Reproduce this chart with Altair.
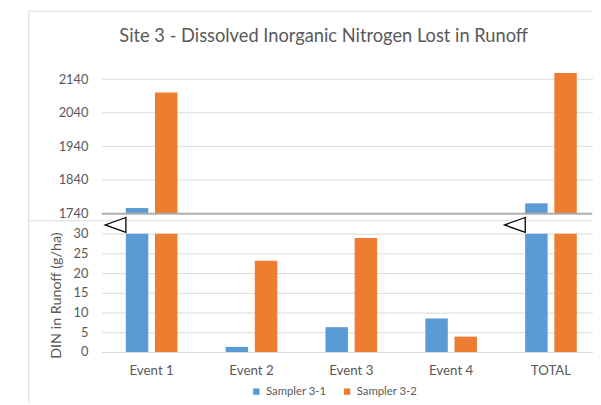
import altair as alt
import pandas as pd

# ---------------- data ----------------
categories = ["Event 1", "Event 2", "Event 3", "Event 4", "TOTAL"]
sampler_3_1 = [1756, 1.3, 6.3, 8.5, 1770]
sampler_3_2 = [2100, 23.1, 28.9, 3.9, 2158]
series_names = ["Sampler 3-1", "Sampler 3-2"]
series_colors = ["#5b9bd5", "#ed7d31"]
upper_ticks = [1740, 1840, 1940, 2040, 2140]
lower_ticks = [0, 5, 10, 15, 20, 25, 30]
break_markers = ["Event 1", "TOTAL"]
break_level = [32.2, 32.2]
title_text = "Site 3 - Dissolved Inorganic Nitrogen Lost in Runoff"
y_title = "DIN in Runoff (g/ha)"

rows = []
for i, c in enumerate(categories):
    rows.append({"event": c, "series": series_names[0], "value": sampler_3_1[i]})
    rows.append({"event": c, "series": series_names[1], "value": sampler_3_2[i]})
df = pd.DataFrame(rows)
tri_df = pd.DataFrame({"event": break_markers, "level": break_level})
one = pd.DataFrame({"k": [0]})

# ---------------- layout ----------------
FONT = "Lato"
TXT = "#595959"
GRID = "#d9d9d9"
PW, PH = 497, 284

xenc = alt.X(
    "event:N",
    sort=categories,
    scale=alt.Scale(domain=categories, range=[0, 506], paddingInner=0.483, paddingOuter=0.2415),
    axis=alt.Axis(title=None, labelAngle=0, ticks=False, domain=False, grid=False,
                  labelPadding=12, labelFont=FONT, labelFontSize=13.5, labelColor=TXT),
)
xoff = alt.XOffset("series:N", sort=series_names, scale=alt.Scale(paddingInner=0.23))

legend = alt.Legend(
    title=None, orient="none", legendX=151, legendY=318, direction="horizontal",
    symbolType="square", symbolSize=42, symbolStrokeWidth=0,
    labelFont=FONT, labelFontSize=11.5, labelColor=TXT,
    columnPadding=15, labelOffset=4, padding=0,
)
color = alt.Color("series:N", sort=series_names,
                  scale=alt.Scale(domain=series_names, range=series_colors), legend=legend)

ax_common = dict(orient="left", ticks=False, domain=False, grid=True, gridColor=GRID,
                 labelFont=FONT, labelFontSize=13, labelColor=TXT, labelPadding=14, format="d")

upper = alt.Chart(df).mark_bar().encode(
    x=xenc, xOffset=xoff,
    y=alt.Y("value:Q",
            scale=alt.Scale(domain=[1740, 2180], range=[143.5, -6.3], clamp=True, zero=False, nice=False),
            axis=alt.Axis(values=upper_ticks, title=None, **ax_common)),
    y2=alt.datum(1740),
    color=color,
)

lower = alt.Chart(df).mark_bar().encode(
    x=xenc, xOffset=xoff,
    y=alt.Y("value:Q",
            scale=alt.Scale(domain=[0, 30], range=[284, 164], clamp=True, nice=False),
            axis=alt.Axis(values=lower_ticks, title=y_title, titleX=-45.5, titleY=226.3,
                          titleAngle=270, titleAlign="center", titleBaseline="middle",
                          titleFont=FONT, titleFontSize=14.5, titleFontWeight="normal",
                          titleColor=TXT, **ax_common)),
    color=color,
)

tri = alt.Chart(tri_df).mark_point(
    shape="M1,-0.72L-1,0L1,0.72Z", size=441, filled=True, fill="white",
    stroke="black", strokeWidth=1.3, opacity=1, xOffset=-36.6,
).encode(
    x=xenc,
    y=alt.Y("level:Q", scale=alt.Scale(domain=[0, 30], range=[284, 164], nice=False), axis=None),
)

frame_left = alt.Chart(one).mark_rule(color=GRID, strokeWidth=1).encode(
    x=alt.value(-74), y=alt.value(-61.5), y2=alt.value(336))
frame_top = alt.Chart(one).mark_rule(color=GRID, strokeWidth=1).encode(
    x=alt.value(-74), x2=alt.value(PW), y=alt.value(-61.5))
lower_frame_top = alt.Chart(one).mark_rule(color=GRID, strokeWidth=1).encode(
    x=alt.value(-74), x2=alt.value(PW), y=alt.value(151))
upper_axis_line = alt.Chart(one).mark_rule(color="#ababab", strokeWidth=1.8).encode(
    x=alt.value(0), x2=alt.value(PW), y=alt.value(143.8))

title = alt.Chart(one).mark_text(
    text=title_text, font=FONT, fontSize=18.5, color=TXT, align="center", baseline="alphabetic"
).encode(x=alt.value(225), y=alt.value(-30.7))

chart = alt.layer(
    frame_left, frame_top, lower_frame_top, upper, lower, upper_axis_line, tri, title
).resolve_scale(y="independent").properties(
    width=PW, height=PH,
    padding={"left": 95, "top": 62, "right": 1, "bottom": 51},
    autosize=alt.AutoSizeParams(type="none"),
    background="white",
).configure_view(stroke="transparent")

chart.save("out.html", embed_options={"renderer": "svg", "actions": False})
